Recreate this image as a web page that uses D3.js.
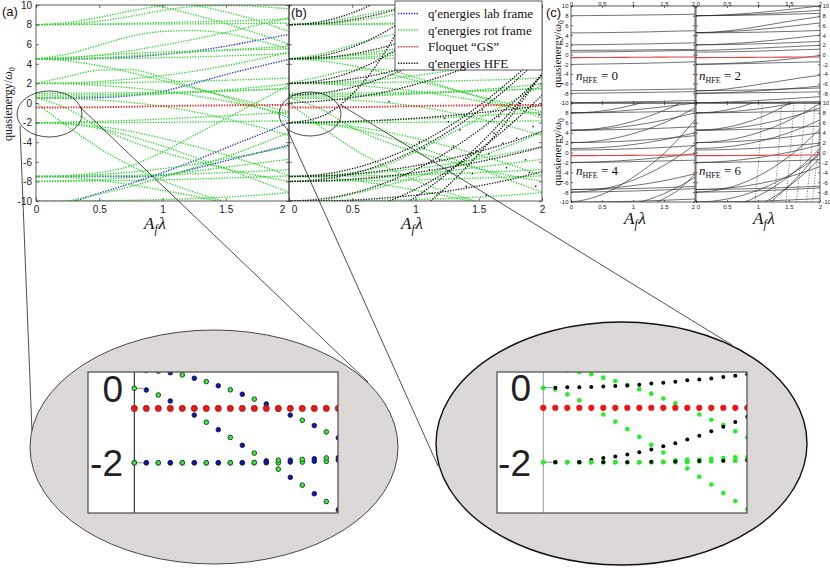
<!DOCTYPE html>
<html><head><meta charset="utf-8">
<script src="https://cdn.jsdelivr.net/npm/d3@7"></script>
<style>body{margin:0;background:#fff}svg{display:block}</style>
</head><body>
<svg id="chart" width="830" height="572"></svg>
<script>
// ---------------- DATA ----------------
const A_GRID = [0, 0.25, 0.5, 0.75, 1, 1.25, 1.5, 1.75, 2];
const X_TICKS = [0, 0.5, 1, 1.5, 2];
const Y_TICKS = [10, 8, 6, 4, 2, 0, -2, -4, -6, -8, -10];
const LEGEND_LABELS = ["q\u2032energies lab frame", "q\u2032energies rot frame", "Floquet \u201cGS\u201d", "q\u2032energies HFE"];
const PANEL_LABELS = ["(a)", "(b)", "(c)"];
const HFE_ORDERS = [0, 2, 4, 6];

const floquetGS = [-0.46, -0.45, -0.43, -0.38, -0.31, -0.27, -0.24, -0.22, -0.2];

const rotFrame = [
  [8.0, 8.02, 8.06, 8.12, 8.2, 8.28, 8.36, 8.45, 8.55],
  [8.0, 8.01, 8.02, 8.04, 8.06, 8.08, 8.1, 8.12, 8.14],
  [8.0, 8.2, 8.75, 9.4, 9.95, 10.4, 10.8, 11.2, 11.6],
  [8.0, 8.08, 8.35, 8.85, 9.45, 9.85, 9.95, 9.85, 9.6],
  [11.5, 11.3, 10.9, 10.4, 9.8, 9.0, 8.1, 7.1, 6.0],
  [13.0, 12.8, 12.4, 11.7, 10.8, 10.0, 9.3, 8.4, 7.3],
  [4.5, 5.0, 5.9, 6.8, 7.3, 7.4, 7.1, 6.4, 5.5],
  [4.5, 4.5, 4.52, 4.56, 4.62, 4.7, 4.8, 4.92, 5.05],
  [4.45, 4.5, 4.62, 4.8, 5.0, 5.2, 5.4, 5.6, 5.8],
  [4.55, 4.65, 4.85, 5.05, 5.2, 5.3, 5.38, 5.45, 5.5],
  [4.5, 4.3, 3.8, 3.1, 2.3, 1.5, 0.7, -0.1, -0.9],
  [4.5, 4.6, 4.9, 5.35, 5.9, 6.5, 7.2, 7.95, 8.7],
  [2.0, 2.7, 3.35, 3.4, 2.6, 1.6, 0.6, -0.4, -1.5],
  [2.0, 2.0, 2.04, 2.1, 2.16, 2.24, 2.32, 2.42, 2.55],
  [2.0, 2.05, 2.2, 2.45, 2.8, 3.25, 3.8, 4.45, 5.2],
  [2.0, 1.95, 1.8, 1.55, 1.2, 0.75, 0.2, -0.45, -1.2],
  [1.0, 1.0, 1.02, 1.05, 1.1, 1.16, 1.24, 1.34, 1.46],
  [0.8, 0.81, 0.84, 0.9, 0.98, 1.08, 1.2, 1.34, 1.5],
  [0.6, 0.62, 0.68, 0.78, 0.92, 1.1, 1.34, 1.62, 1.95],
  [0.5, 0.45, 0.3, 0.05, -0.35, -0.9, -1.6, -2.4, -3.3],
  [0.55, -0.6, -2.5, -3.9, -5.0, -5.9, -6.7, -7.4, -8.0],
  [0.0, -2.4, -4.6, -6.4, -7.9, -9.1, -10.1, -11.0, -11.8],
  [-2.0, -2.0, -2.0, -1.99, -1.97, -1.94, -1.9, -1.86, -1.82],
  [-2.0, -1.95, -1.87, -1.77, -1.63, -1.47, -1.3, -1.12, -0.95],
  [-2.0, -2.15, -2.6, -3.4, -4.4, -5.5, -6.7, -7.9, -9.1],
  [-2.0, -2.1, -2.4, -2.9, -3.6, -4.4, -5.3, -6.3, -7.4],
  [-7.5, -7.48, -7.45, -7.4, -7.32, -7.22, -7.1, -6.95, -6.8],
  [-7.5, -7.45, -7.3, -7.05, -6.7, -6.25, -5.7, -5.1, -4.45],
  [-7.5, -7.4, -7.1, -6.4, -5.0, -3.3, -1.6, 0.1, 1.8],
  [-7.5, -7.6, -7.9, -8.35, -8.9, -9.5, -10.2, -11.0, -11.8],
  [-8.0, -7.98, -7.95, -7.9, -7.84, -7.76, -7.66, -7.55, -7.45],
  [-8.0, -7.95, -7.82, -7.6, -7.3, -6.95, -6.55, -6.15, -5.75],
  [-10.0, -10.0, -9.97, -9.92, -9.85, -9.75, -9.6, -9.4, -9.15],
  [-10.5, -10.0, -9.3, -8.5, -7.6, -6.6, -5.5, -4.3, -3.0]
];

const labFrame = [
  [-10.8, -10.2, -9.2, -8.2, -7.1, -5.9, -4.6, -3.3, -2.0],
  [-7.5, -7.5, -7.5, -7.5, -7.4, -6.7, -5.9, -5.1, -4.3],
  [0.5, 0.5, 0.55, 0.75, 1.2, 2.0, 2.9, 3.7, 4.45],
  [4.5, 4.5, 4.55, 4.7, 4.95, 5.3, 5.8, 6.4, 7.0]
];

const hfeCurves = [
  [8.0, 8.3, 9.2, 10.7, 12.8, 15, 17, 19, 21],
  [8.0, 8.1, 8.5, 9.2, 10.2, 11.5, 13, 14.7, 16.5],
  [4.5, 4.8, 5.7, 7.2, 9.3, 12, 15, 18, 21],
  [4.5, 4.6, 5.0, 5.7, 6.7, 8.0, 9.6, 11.5, 13.6],
  [2.0, 2.3, 3.2, 4.7, 6.8, 9.5, 12.7, 16, 20],
  [2.0, 2.1, 2.45, 3.05, 3.9, 5.0, 6.35, 7.95, 9.8],
  [0.8, 1.0, 1.6, 2.6, 4.0, 5.8, 8.0, 10.6, 13.6],
  [0.0, 0.2, 0.55, 1.1, 1.9, 2.9, 4.1, 5.5, 7.1],
  [-2.0, -1.4, 0.9, 5.0, 11, 18, 26, 35, 45],
  [-2.0, -1.96, -1.88, -1.75, -1.55, -1.3, -1.0, -0.65, -0.25],
  [-7.5, -7.3, -6.7, -5.7, -4.3, -2.5, -0.3, 2.3, 5.2],
  [-7.5, -7.45, -7.25, -6.9, -6.4, -5.75, -4.95, -4.0, -2.9],
  [-8.0, -7.8, -7.2, -6.2, -4.8, -3.0, -0.8, 1.8, 4.8],
  [-8.0, -7.95, -7.78, -7.5, -7.1, -6.6, -6.0, -5.3, -4.5],
  [-10, -9.8, -9.2, -8.2, -6.8, -5.0, -2.8, -0.2, 2.8],
  [-10, -10, -9.9, -9.7, -9.4, -9.0, -8.45, -7.8, -7.0],
  [-12, -11.8, -11.2, -10.2, -8.8, -7.0, -4.8, -2.2, 0.8],
  [-14, -13.7, -12.9, -11.5, -9.6, -7.2, -4.3, -0.9, 3.0],
  [-16, -15.7, -14.8, -13.3, -11.2, -8.5, -5.2, -1.4, 3.0]
];

const hfeDots = [[0.79,0.14],[1.03,-3.95],[1.07,-4.6],[1.19,-5.8],[1.11,-6.8],[1.23,-1.57],[1.26,-1.9],
  [1.35,-2.75],[1.4,-8.5],[1.45,-7.2],[1.53,-0.72],[1.56,-9.4],[1.58,-5.2],[1.66,-1.4],[1.69,-4.1],
  [1.8,-3.6],[1.82,-0.04],[1.87,-5.8],[1.93,-2.4],[1.95,-8.5],[1.72,-6.6],[1.62,-3.1],[1.3,-4.4],
  [1.48,-4.9],[1.9,-7.1],[1.98,-1.2]];

const cGS = [-0.64, -0.63, -0.62, -0.6, -0.58, -0.56, -0.54, -0.52, -0.5];

const nHFE0 = [
  [8.0, 8.02, 8.05, 8.08, 8.12, 8.16, 8.2, 8.25, 8.3],
  [4.45, 4.47, 4.5, 4.55, 4.6, 4.67, 4.75, 4.83, 4.9],
  [2.0, 2.02, 2.05, 2.1, 2.15, 2.2, 2.27, 2.33, 2.4],
  [0.85, 0.86, 0.88, 0.9, 0.93, 0.96, 0.99, 1.02, 1.05],
  [0.5, 0.52, 0.55, 0.6, 0.65, 0.7, 0.75, 0.8, 0.85],
  [-2.05, -2.0, -1.95, -1.9, -1.85, -1.78, -1.7, -1.6, -1.5],
  [-7.45, -7.43, -7.4, -7.35, -7.3, -7.25, -7.2, -7.15, -7.1],
  [-8.0, -7.98, -7.95, -7.9, -7.85, -7.8, -7.75, -7.7, -7.65],
  [-9.95, -9.9, -9.85, -9.8, -9.75, -9.7, -9.65, -9.55, -9.5]
];
const nHFE2 = [
  [8.0, 8.05, 8.2, 8.4, 8.65, 8.95, 9.3, 9.65, 10.0],
  [8.0, 8.03, 8.1, 8.2, 8.35, 8.5, 8.7, 8.9, 9.1],
  [8.0, 8.02, 8.05, 8.1, 8.15, 8.2, 8.3, 8.4, 8.5],
  [4.5, 4.6, 4.85, 5.25, 5.75, 6.3, 6.85, 7.35, 7.8],
  [4.5, 4.55, 4.7, 4.9, 5.15, 5.45, 5.8, 6.15, 6.5],
  [4.45, 4.47, 4.5, 4.55, 4.6, 4.68, 4.76, 4.85, 4.95],
  [2.0, 2.05, 2.2, 2.4, 2.65, 2.95, 3.3, 3.65, 4.0],
  [2.0, 2.02, 2.06, 2.12, 2.2, 2.3, 2.42, 2.55, 2.7],
  [0.85, 0.9, 1.0, 1.15, 1.3, 1.45, 1.6, 1.75, 1.9],
  [0.5, 0.52, 0.56, 0.62, 0.7, 0.8, 0.9, 1.0, 1.1],
  [-2.05, -2.0, -1.95, -1.88, -1.8, -1.72, -1.65, -1.58, -1.5],
  [-2.0, -1.95, -1.85, -1.7, -1.5, -1.25, -0.95, -0.6, -0.2],
  [-7.5, -7.4, -7.1, -6.7, -6.2, -5.7, -5.2, -4.7, -4.3],
  [-7.45, -7.43, -7.4, -7.35, -7.3, -7.2, -7.1, -7.0, -6.9],
  [-8.0, -7.95, -7.85, -7.7, -7.5, -7.3, -7.05, -6.8, -6.5],
  [-8.0, -7.98, -7.95, -7.92, -7.88, -7.84, -7.8, -7.75, -7.7],
  [-9.95, -9.9, -9.8, -9.65, -9.5, -9.3, -9.1, -8.9, -8.7],
  [-10, -10, -10, -9.95, -9.9, -9.85, -9.8, -9.75, -9.7]
];
const nHFE4 = [
  [8.0, 8.02, 8.05, 8.1, 8.15, 8.2, 8.27, 8.34, 8.4],
  [8.0, 8.1, 8.4, 8.9, 9.6, 10.4, 11.3, 12.3, 13.4],
  [8.0, 8.04, 8.15, 8.35, 8.6, 8.9, 9.25, 9.6, 10.0],
  [4.5, 4.52, 4.56, 4.62, 4.7, 4.8, 4.92, 5.05, 5.2],
  [4.5, 4.6, 4.95, 5.5, 6.3, 7.3, 8.5, 9.9, 11.5],
  [4.5, 4.55, 4.75, 5.05, 5.45, 5.95, 6.55, 7.25, 8.0],
  [2.0, 2.1, 2.45, 3.0, 3.8, 4.8, 6.0, 7.4, 9.0],
  [2.0, 2.03, 2.1, 2.22, 2.38, 2.58, 2.82, 3.1, 3.4],
  [0.8, 0.85, 1.0, 1.25, 1.6, 2.05, 2.6, 3.25, 4.0],
  [0.5, 0.52, 0.57, 0.65, 0.75, 0.88, 1.03, 1.2, 1.4],
  [-2.0, -1.95, -1.85, -1.7, -1.5, -1.25, -0.95, -0.6, -0.2],
  [-2.05, -2.02, -1.98, -1.92, -1.85, -1.77, -1.7, -1.62, -1.55],
  [-7.5, -7.45, -7.3, -7.05, -6.7, -6.25, -5.7, -5.05, -4.3],
  [-7.45, -7.43, -7.4, -7.35, -7.28, -7.2, -7.1, -6.98, -6.85],
  [-8.0, -7.85, -7.4, -6.65, -5.6, -4.25, -2.6, -0.65, 1.6],
  [-8.0, -7.98, -7.93, -7.86, -7.78, -7.68, -7.56, -7.42, -7.3],
  [-10, -9.5, -8.5, -7.0, -5.0, -2.8, -0.2, 3.0, 6.6],
  [-10, -10, -9.97, -9.92, -9.85, -9.76, -9.65, -9.52, -9.4],
  [-12, -11.9, -11.6, -11.1, -10.4, -9.5, -8.3, -6.8, -5.0],
  [-14, -13.9, -13.5, -12.9, -12.0, -10.8, -9.3, -7.4, -4.3]
];
const nHFE6 = [
  [8.0, 8.02, 8.05, 8.1, 8.16, 8.22, 8.3, 8.38, 8.45],
  [8.0, 8.15, 8.6, 9.35, 10.4, 11.7, 13.2, 15, 17],
  [8.0, 8.05, 8.2, 8.45, 8.8, 9.25, 9.8, 10.4, 11.1],
  [4.5, 4.52, 4.57, 4.64, 4.74, 4.86, 5.0, 5.16, 5.35],
  [4.5, 4.65, 5.1, 5.85, 6.9, 8.25, 9.9, 11.8, 14],
  [4.5, 4.56, 4.78, 5.14, 5.64, 6.28, 7.06, 7.98, 9.0],
  [2.0, 2.12, 2.5, 3.1, 4.0, 5.1, 6.5, 8.1, 9.9],
  [2.0, 2.04, 2.14, 2.3, 2.52, 2.8, 3.14, 3.54, 4.0],
  [0.8, 0.9, 1.15, 1.6, 2.2, 3.0, 4.0, 5.2, 6.6],
  [0.5, 0.53, 0.6, 0.72, 0.88, 1.08, 1.32, 1.6, 1.9],
  [-2.0, -1.93, -1.75, -1.45, -1.05, -0.55, 0.05, 0.75, 1.55],
  [-2.05, -2.02, -1.98, -1.92, -1.84, -1.75, -1.66, -1.56, -1.45],
  [-7.5, -7.42, -7.2, -6.85, -6.35, -5.7, -4.9, -3.95, -2.85],
  [-7.45, -7.43, -7.4, -7.34, -7.26, -7.17, -7.06, -6.94, -6.8],
  [-8.0, -7.8, -7.2, -6.2, -4.8, -3.0, -0.8, 1.8, 4.8],
  [-8.0, -7.98, -7.92, -7.84, -7.74, -7.62, -7.48, -7.32, -7.15],
  [-10, -9.85, -9.4, -8.65, -7.6, -6.25, -4.6, -2.65, -0.4],
  [-10, -10, -9.96, -9.9, -9.82, -9.72, -9.6, -9.46, -9.3],
  [-12, -11.8, -11.2, -10.2, -8.8, -7.0, -4.8, -2.2, 0.8],
  [-14, -13.8, -13.2, -12.2, -10.8, -9.0, -6.8, -4.2, -1.2],
  [-16, -15.7, -14.9, -13.6, -11.8, -9.5, -6.7, -3.4, 0.4]
];
const nHFE6Steep = [
  [[0.95,-10],[1.02,0],[1.07,10]],
  [[1.25,-10],[1.33,0],[1.38,10]],
  [[1.45,-10],[1.52,0],[1.58,10]],
  [[1.62,-10],[1.7,0],[1.76,10]],
  [[1.78,-10],[1.86,0],[1.92,10]],
  [[1.88,-10],[1.96,0],[2.0,5]]
];

// zoom insets (A from 0 to 0.34)
const INSET_A = [0,0.02,0.04,0.06,0.08,0.1,0.12,0.14,0.16,0.18,0.2,0.22,0.24,0.26,0.28,0.3,0.32,0.34];
const INSET_Y_TICKS = [0, -2];
const insetRot = [
  [0,-0.045,-0.18,-0.34,-0.54,-0.72,-0.91,-1.11,-1.32,-1.53,-1.74,-1.95,-2.17,-2.39,-2.6,-2.83,-3.04,-3.26],
  [0.5,0.48,0.46,0.42,0.36,0.27,0.18,0.07,-0.04,-0.16,-0.29,-0.42,-0.56,-0.72,-0.86,-1.0,-1.17,-1.33],
  [-2,-2,-2,-2,-2,-2,-2,-2,-2,-2,-2,-2,-2.0,-1.98,-1.98,-1.96,-1.96,-1.93],
  [-2,-2,-2,-2,-2,-2,-2,-2,-2,-2,-1.99,-1.96,-1.93,-1.93,-1.91,-1.89,-1.87,-1.86]
];
const insetHFE = [
  [0,0,0.01,0.01,0.02,0.03,0.045,0.06,0.08,0.11,0.13,0.16,0.2,0.22,0.25,0.29,0.32,0.36],
  [-2,-2,-2,-2,-1.94,-1.89,-1.85,-1.79,-1.73,-1.66,-1.57,-1.49,-1.39,-1.29,-1.17,-1.05,-0.92,-0.78],
  [-2,-2,-2,-2,-2,-2,-2,-2,-2,-1.99,-1.99,-1.98,-1.98,-1.97,-1.97,-1.96,-1.96,-1.95]
];
const insetGS = [-0.54,-0.54,-0.54,-0.54,-0.54,-0.54,-0.54,-0.54,-0.54,-0.54,-0.54,-0.54,-0.54,-0.54,-0.54,-0.54,-0.54,-0.54];

// ---------------- DRAWING ----------------
const GREEN = "#2ed42e", BLUE = "#2424d8", RED = "#ee2020", BLACK = "#111";
const SANS = "'Liberation Sans', Arial, sans-serif";
const SERIF = "'Liberation Serif', 'Times New Roman', serif";
const svg = d3.select("#chart");
const defs = svg.append("defs");
function clipRect(id, x0, y0, x1, y1) {
  defs.append("clipPath").attr("id", id).append("rect")
    .attr("x", x0).attr("y", y0).attr("width", x1 - x0).attr("height", y1 - y0);
  return `url(#${id})`;
}
const fmt = d => String(d);

function axes(g, x, y, o) {
  const tl = o.tick;
  const [x0, x1] = x.range(), [yb, yt] = y.range();
  const mk = (gen, tr, vals, show, pad) => {
    const a = g.append("g").attr("transform", tr)
      .call(gen.tickValues(vals).tickSizeInner(-tl).tickSizeOuter(0).tickPadding(pad)
        .tickFormat(d => show ? fmt(d) : ""));
    a.select(".domain").remove();
    a.selectAll("line").attr("stroke", "#333").attr("stroke-width", 0.7);
    a.selectAll("text").attr("font-family", SANS).attr("font-size", o.fs).attr("fill", "#222");
    return a;
  };
  const r = {};
  r.left = mk(d3.axisLeft(y), `translate(${x0},0)`, Y_TICKS, o.left, o.padY);
  r.right = mk(d3.axisRight(y), `translate(${x1},0)`, Y_TICKS, o.right, o.padY);
  r.bottom = mk(d3.axisBottom(x), `translate(0,${yb})`, X_TICKS, o.bottom, o.padX);
  r.top = mk(d3.axisTop(x), `translate(0,${yt})`, X_TICKS, o.top, o.padXt == null ? o.padX : o.padXt);
  g.append("rect").attr("x", x0).attr("y", yt).attr("width", x1 - x0).attr("height", yb - yt)
    .attr("fill", "none").attr("stroke", "#333").attr("stroke-width", 0.8);
  return r;
}

function gridLine(x, y) {
  return d3.line().x((d, i) => x(A_GRID[i])).y(d => y(d)).curve(d3.curveMonotoneX);
}
function drawSeries(g, data, x, y, color, w, dash) {
  g.selectAll(null).data(data).join("path")
    .attr("d", gridLine(x, y)).attr("fill", "none").attr("stroke", color)
    .attr("stroke-width", w).attr("stroke-dasharray", dash || null);
}

// Main panels (a) and (b)
const yM = d3.scaleLinear().domain([-10, 10]).range([201, 5]);
const xA = d3.scaleLinear().domain([0, 2]).range([36, 289]);
const xB = d3.scaleLinear().domain([0, 2]).range([289, 542]);
const DOT = "1.3 1.35";

const gA = svg.append("g");
const dA = gA.append("g").attr("clip-path", clipRect("clipA", 36, 5, 289, 201));
drawSeries(dA, labFrame, xA, yM, BLUE, 1.35, DOT);
drawSeries(dA, rotFrame, xA, yM, GREEN, 1.35, DOT);
drawSeries(dA, [floquetGS], xA, yM, RED, 1.9, DOT);
const axA = axes(gA, xA, yM, {tick: 3, fs: 10, left: true, bottom: true, padY: 4, padX: 5});
axA.bottom.selectAll("text").filter(d => d === 2).attr("dx", -7);

const gB = svg.append("g");
const dB = gB.append("g").attr("clip-path", clipRect("clipB", 289, 5, 542, 201));
drawSeries(dB, rotFrame, xB, yM, GREEN, 1.35, DOT);
drawSeries(dB, hfeCurves, xB, yM, BLACK, 1.3, DOT);
dB.selectAll(null).data(hfeDots).join("rect")
  .attr("x", d => xB(d[0]) - 0.7).attr("y", d => yM(d[1]) - 0.7).attr("width", 1.4).attr("height", 1.4).attr("fill", BLACK);
drawSeries(dB, [floquetGS], xB, yM, RED, 1.9, DOT);
const axB = axes(gB, xB, yM, {tick: 3, fs: 10, left: false, bottom: true, padY: 4, padX: 5});
axB.bottom.selectAll("text").filter(d => d === 0).attr("dx", 5);

// Legend
const leg = svg.append("g");
leg.append("rect").attr("x", 395).attr("y", 1).attr("width", 147).attr("height", 69)
  .attr("fill", "#fff").attr("stroke", "#333").attr("stroke-width", 0.8);
const legColors = [BLUE, GREEN, RED, BLACK];
LEGEND_LABELS.forEach((t, i) => {
  const yy = 13.5 + i * 16.6;
  leg.append("line").attr("x1", 398).attr("x2", 419).attr("y1", yy).attr("y2", yy)
    .attr("stroke", legColors[i]).attr("stroke-width", 1.5).attr("stroke-dasharray", DOT);
  leg.append("text").attr("x", 428).attr("y", yy).attr("dy", "0.35em")
    .attr("font-family", SERIF).attr("font-size", 13).attr("fill", "#111").text(t);
});

// axis titles
function yTitle(x, y, fs) {
  const t = svg.append("text").attr("transform", `translate(${x},${y}) rotate(-90)`)
    .attr("text-anchor", "middle").attr("font-family", SERIF).attr("font-size", fs).attr("fill", "#111");
  t.append("tspan").text("quasienergy/");
  t.append("tspan").attr("font-style", "italic").text("\u03c9");
  t.append("tspan").attr("font-size", fs * 0.7).attr("dy", fs * 0.25).text("0");
}
function xTitle(x, y, fs) {
  const t = svg.append("text").attr("x", x).attr("y", y).attr("text-anchor", "middle")
    .attr("font-family", SERIF).attr("font-style", "italic").attr("font-size", fs).attr("fill", "#111");
  t.append("tspan").text("A");
  t.append("tspan").attr("font-size", fs * 0.68).attr("dy", fs * 0.25).text("f");
  t.append("tspan").attr("dy", -fs * 0.25).attr("dx", 1).text("\u03bb");
}
yTitle(12, 104, 12);
xTitle(155, 229, 17);
xTitle(412, 229, 17);

// panel labels
[[2, 16], [291, 17], [546, 17]].forEach((p, i) => {
  svg.append("text").attr("x", p[0]).attr("y", p[1]).attr("font-family", SANS)
    .attr("font-size", 13).attr("fill", "#111").text(PANEL_LABELS[i]);
});

// Panel (c)
const xC = [d3.scaleLinear().domain([0, 2]).range([571, 695]), d3.scaleLinear().domain([0, 2]).range([696, 820])];
const yC = [d3.scaleLinear().domain([-10, 10]).range([103, 6]), d3.scaleLinear().domain([-10, 10]).range([202, 103])];
const cSets = [nHFE0, nHFE2, nHFE4, nHFE6];
cSets.forEach((set, k) => {
  const col = k % 2, row = Math.floor(k / 2);
  const x = xC[col], y = yC[row];
  const g = svg.append("g");
  const [x0, x1] = x.range(), [yb, yt] = y.range();
  const d = g.append("g").attr("clip-path", clipRect("clipC" + k, x0, yt, x1, yb));
  drawSeries(d, set, x, y, "#262626", 0.65, null);
  if (k === 3) {
    d.selectAll(null).data(nHFE6Steep).join("path")
      .attr("d", d3.line().x(p => x(p[0])).y(p => y(p[1])).curve(d3.curveMonotoneX))
      .attr("fill", "none").attr("stroke", "#333").attr("stroke-width", 0.7).attr("stroke-dasharray", "1 1.6");
  }
  drawSeries(d, [cGS], x, y, "#e8403f", 1.1, null);
  const ax = axes(g, x, y, {
    tick: 2, fs: 6, padY: 2.5, padX: 2.5, padXt: 0.3,
    left: col === 0, right: col === 1, bottom: row === 1, top: row === 0
  });
  if (col === 0 && row === 1) ax.left.selectAll("text").filter(v => v === 10).text("");
  if (col === 1 && row === 0) ax.right.selectAll("text").filter(v => v === -10).text("");
  if (col === 0) ax.bottom.selectAll("text").filter(v => v === 2).attr("dx", -2);
  if (col === 0) ax.top.selectAll("text").filter(v => v === 2).attr("dx", -2);
  if (col === 1) ax.bottom.selectAll("text").filter(v => v === 0).attr("dx", 2);
  if (col === 1) ax.top.selectAll("text").filter(v => v === 0).attr("dx", 2);
  // n_HFE label
  const t = svg.append("text").attr("x", col === 0 ? 576 : 699).attr("y", row === 0 ? 80 : 175)
    .attr("font-family", SERIF).attr("font-size", 13).attr("fill", "#111");
  t.append("tspan").attr("font-style", "italic").text("n");
  t.append("tspan").attr("font-size", 8).attr("dy", 3).text("HFE");
  t.append("tspan").attr("dy", -3).text(" = " + HFE_ORDERS[k]);
});
yTitle(561, 54, 11);
yTitle(561, 152, 11);
xTitle(635, 224, 17);
xTitle(764, 224, 17);

// small ellipses & connectors
const conn = svg.append("g").attr("fill", "none").attr("stroke", "#222").attr("stroke-width", 0.8);
conn.append("ellipse").attr("cx", 49.5).attr("cy", 114).attr("rx", 32.5).attr("ry", 23);
conn.append("ellipse").attr("cx", 310).attr("cy", 114).attr("rx", 31).attr("ry", 22);
[[20, 126, 32, 432], [80, 107, 368, 382], [287, 129, 438, 466], [341, 105, 732, 345]].forEach(l => {
  conn.append("line").attr("x1", l[0]).attr("y1", l[1]).attr("x2", l[2]).attr("y2", l[3]);
});

// big ellipses
svg.append("ellipse").attr("cx", 214).attr("cy", 447).attr("rx", 184).attr("ry", 117)
  .attr("fill", "#ddd8d8").attr("stroke", "#333").attr("stroke-width", 0.9);
svg.append("ellipse").attr("cx", 621.5).attr("cy", 443.5).attr("rx", 185.5).attr("ry", 121.5)
  .attr("fill", "#ddd8d8").attr("stroke", "#111").attr("stroke-width", 1.4);

function inset(cfg) {
  const g = svg.append("g");
  const [rx0, ry0, rx1, ry1] = cfg.rect;
  g.append("rect").attr("x", rx0).attr("y", ry0).attr("width", rx1 - rx0).attr("height", ry1 - ry0)
    .attr("fill", "#fff");
  const x = d3.scaleLinear().domain([0, 0.34]).range([cfg.x0, cfg.x0 + 204]);
  const y = d3.scaleLinear().domain([0, -2]).range([cfg.y0, cfg.y0 + 74.5]);
  g.append("line").attr("x1", x(0)).attr("x2", x(0)).attr("y1", ry0).attr("y2", ry1)
    .attr("stroke", cfg.axisColor).attr("stroke-width", 1);
  INSET_Y_TICKS.forEach(v => {
    g.append("text").attr("x", cfg.labelX).attr("y", y(v)).attr("dy", "0.36em").attr("text-anchor", "end")
      .attr("font-family", SANS).attr("font-size", 37).attr("fill", "#222").text(String(v));
  });
  const d = g.append("g").attr("clip-path", clipRect(cfg.id, rx0, ry0, rx1, ry1));
  // short stubs from the axis
  [insetRot[0], insetRot[2]].forEach(s => {
    d.append("line").attr("x1", x(INSET_A[0])).attr("x2", x(INSET_A[1]) - 3)
      .attr("y1", y(s[0])).attr("y2", y(s[0])).attr("stroke", "#888").attr("stroke-width", 1);
  });
  const pts = [];
  insetRot.forEach(s => s.forEach((v, i) => pts.push({i, v, c: "rot"})));
  cfg.other.forEach(s => s.forEach((v, i) => pts.push({i, v, c: "other"})));
  pts.forEach(p => { p.z = (p.i % 2 === 0) === (p.c === "rot") ? 1 : 0; });
  pts.sort((a, b) => a.z - b.z);
  d.selectAll(null).data(pts).join("circle")
    .attr("cx", p => x(INSET_A[p.i])).attr("cy", p => y(p.v))
    .attr("r", p => p.c === "rot" ? cfg.rRot : cfg.rOther)
    .attr("fill", p => p.c === "rot" ? cfg.rotColor : cfg.otherColor)
    .attr("stroke", cfg.outline).attr("stroke-width", cfg.outline === "none" ? 0 : 0.6);
  d.selectAll(null).data(insetGS).join("circle")
    .attr("cx", (v, i) => x(INSET_A[i])).attr("cy", v => y(v)).attr("r", 3.1)
    .attr("fill", "#f01414").attr("stroke", cfg.outline === "none" ? "none" : "#7a1010").attr("stroke-width", 0.6);
  g.append("rect").attr("x", rx0).attr("y", ry0).attr("width", rx1 - rx0).attr("height", ry1 - ry0)
    .attr("fill", "none").attr("stroke", "#555").attr("stroke-width", 1.3);
}
inset({id: "insL", rect: [88, 372, 338, 513], x0: 134.3, y0: 388.3, labelX: 123, axisColor: "#111",
  other: insetRot, otherColor: "#1010c8", rotColor: "#33ee33", outline: "#222", rRot: 2.3, rOther: 2.2});
inset({id: "insR", rect: [497, 372, 747, 513], x0: 543.3, y0: 387.7, labelX: 531, axisColor: "#999",
  other: insetHFE, otherColor: "#000", rotColor: "#22ee22", outline: "none", rRot: 2.3, rOther: 2.0});
</script>
</body></html>
